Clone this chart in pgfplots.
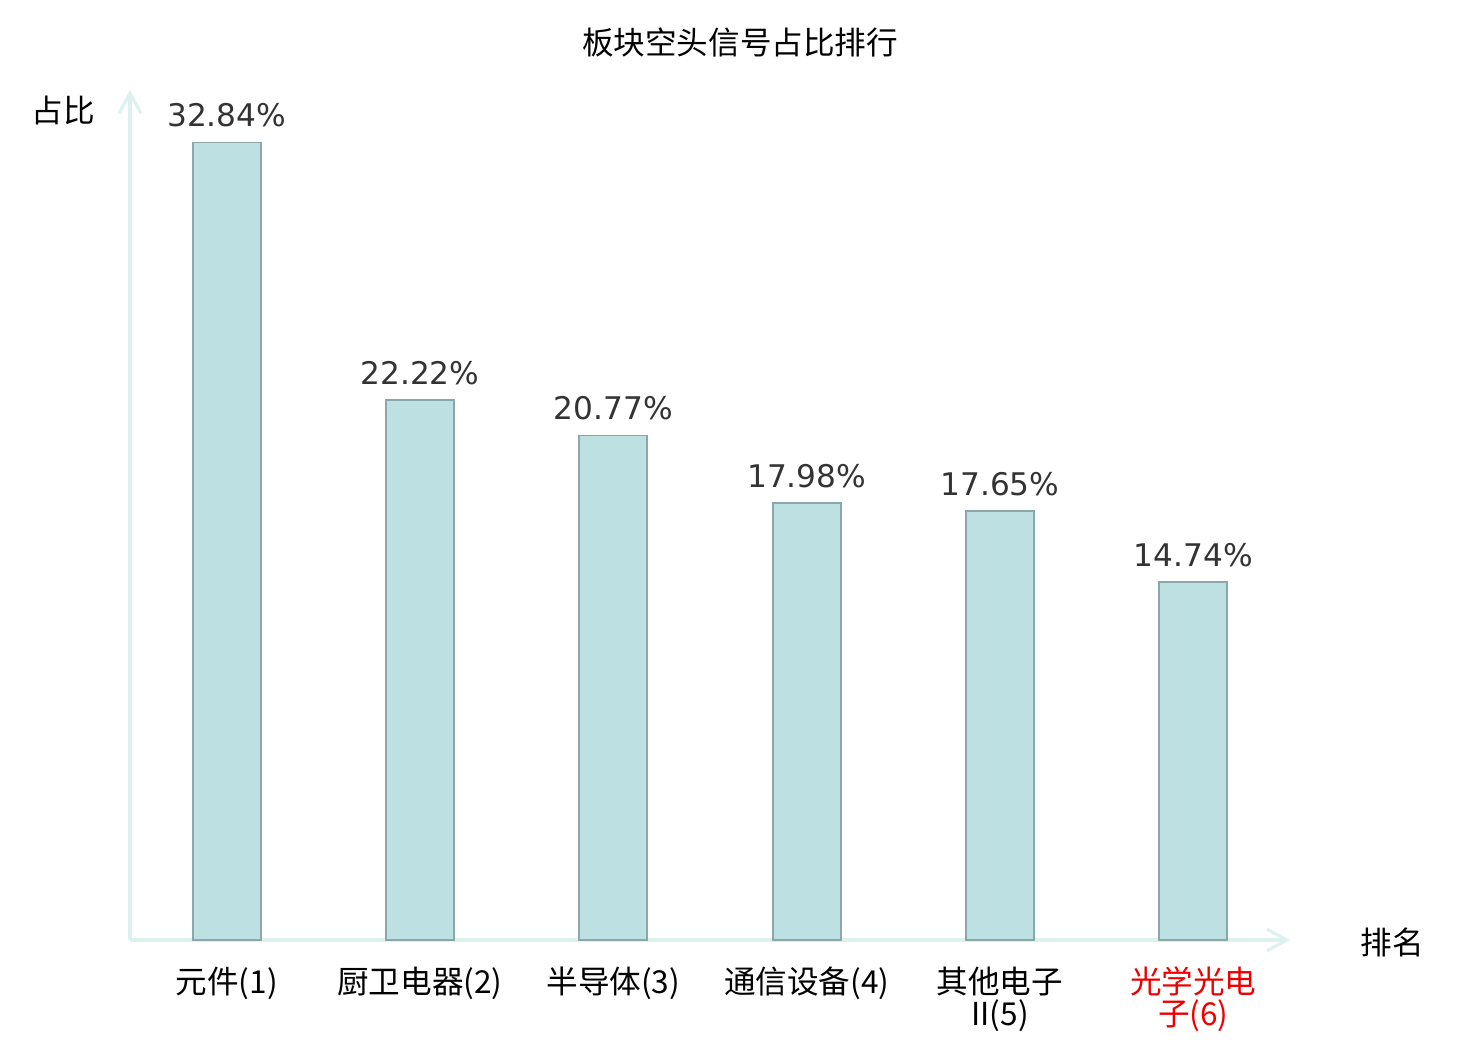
\documentclass[border=0pt]{standalone}
\usepackage{pgfplots}
\pgfplotsset{compat=1.18}
\usepackage{fontspec}
\setmainfont{Noto Sans CJK SC}
\newfontfamily\dejavu{DejaVu Sans}
\usetikzlibrary{arrows.meta}
\definecolor{barc}{HTML}{BDE0E3}
\definecolor{edgec}{HTML}{8AA7AA}
\definecolor{axisc}{HTML}{DDF1EE}
\definecolor{numc}{HTML}{333333}
\definecolor{redc}{HTML}{EE0000}
\begin{document}
\begin{tikzpicture}
\path[use as bounding box] (0,0) rectangle (740pt,520pt);
\begin{axis}[
  at={(65pt,50pt)}, anchor=south west,
  scale only axis, width=580pt, height=425pt,
  xmin=-0.5, xmax=5.5, ymin=0, ymax=35,
  axis x line=bottom, axis y line=left,
  axis line style={draw=axisc, line width=1.6pt},
  x axis line style={-{Straight Barb[length=10pt,width=11pt]}},
  y axis line style={-{Straight Barb[length=10pt,width=11pt]}},
  ytick=\empty,
  xtick=data,
  major tick length=0pt,
  xticklabels={元件(1), 厨卫电器(2), 半导体(3), 通信设备(4), 其他电子\\II(5), {\color{redc}光学光电\\\color{redc}子(6)}},
  xticklabel style={align=center, font=\fontsize{15.8pt}{16pt}\selectfont, text=black, yshift=-10pt},
  ybar, bar width=34pt,
  nodes near coords={\pgfmathprintnumber[fixed,fixed zerofill,precision=2,assume math mode=true]{\pgfplotspointmeta}\%},
  every node near coord/.append style={font=\dejavu\fontsize{15.6pt}{16pt}\selectfont, text=numc, yshift=4pt},
  clip=false,
]
\addplot[fill=barc, draw=edgec, line width=0.9pt] coordinates {(0,32.84) (1,22.22) (2,20.77) (3,17.98) (4,17.65) (5,14.74)};
\end{axis}
\node[font=\fontsize{15.8pt}{16pt}\selectfont] at (370pt,499pt) {板块空头信号占比排行};
\node[font=\fontsize{15.8pt}{16pt}\selectfont] at (31.5pt,465pt) {占比};
\node[font=\fontsize{15.8pt}{16pt}\selectfont] at (696pt,49pt) {排名};
\end{tikzpicture}
\end{document}
